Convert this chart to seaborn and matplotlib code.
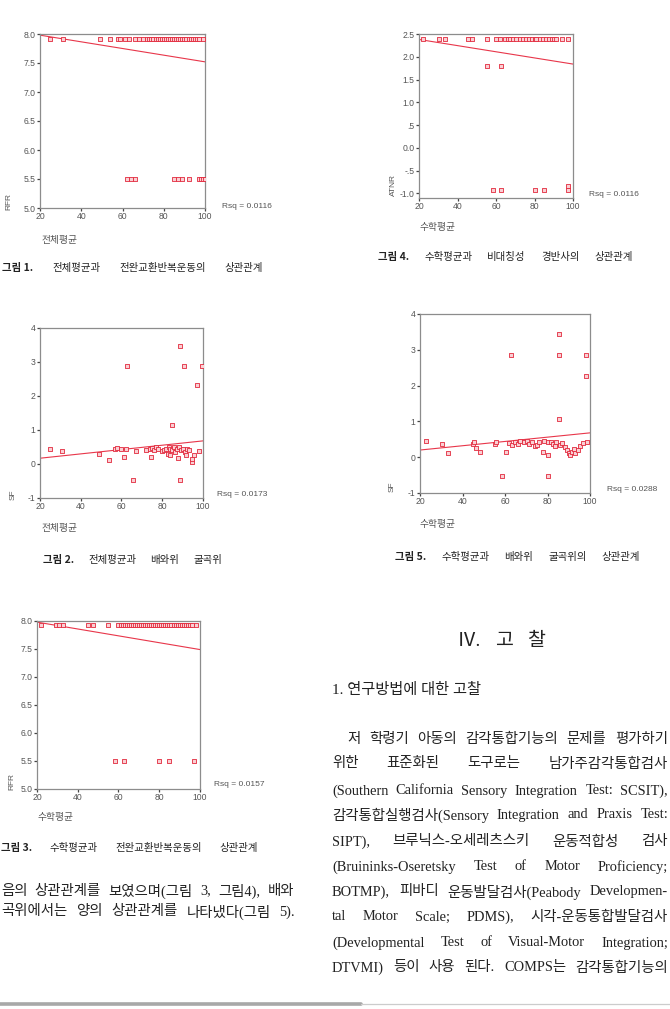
import matplotlib
matplotlib.use("Agg")
import matplotlib.pyplot as plt
from matplotlib.lines import Line2D
import seaborn as sns
import pandas as pd

# ---------------- data ----------------
FIT_X = [20, 100]
X_TICKS = [20, 40, 60, 80, 100]
X_TICKLABELS = ["20", "40", "60", "80", "100"]

# Fig 1: 전체평균 vs RFR
fig1_x = [25, 31, 49, 54, 58, 59, 61, 63, 66, 68, 70, 72, 73, 74, 75, 76, 77, 78, 79, 80,
          81, 82, 83, 84, 85, 86, 87, 88, 89, 90, 91, 92, 93, 94, 95, 96, 97, 99,
          62, 64, 66, 85, 87, 89, 92, 97, 98, 99, 100]
fig1_y = [7.92, 7.92, 7.92, 7.92, 7.92, 7.92, 7.92, 7.92, 7.92, 7.92, 7.92, 7.92, 7.92,
          7.92, 7.92, 7.92, 7.92, 7.92, 7.92, 7.92, 7.92, 7.92, 7.92, 7.92, 7.92, 7.92,
          7.92, 7.92, 7.92, 7.92, 7.92, 7.92, 7.92, 7.92, 7.92, 7.92, 7.92, 7.92,
          5.5, 5.5, 5.5, 5.5, 5.5, 5.5, 5.5, 5.5, 5.5, 5.5, 5.5]
fig1_fit = [7.98, 7.52]
fig1_rsq = "Rsq = 0.0116"

# Fig 4: 수학평균 vs ATNR
fig4_x = [22, 30.4, 33.3, 45.5, 47.7, 55.3, 60.2, 61.9, 64.5, 66, 67.5, 69, 70.6, 72.3,
          74, 75.5, 77, 78.5, 80, 81, 82.7, 84.5, 86, 87.5, 89, 90, 91.3, 94.5, 97.4,
          55.3, 62.8,
          58.4, 62.8, 80.1, 84.8, 97.4, 97.4]
fig4_y = [2.4, 2.4, 2.4, 2.4, 2.4, 2.4, 2.4, 2.4, 2.4, 2.4, 2.4, 2.4, 2.4, 2.4,
          2.4, 2.4, 2.4, 2.4, 2.4, 2.4, 2.4, 2.4, 2.4, 2.4, 2.4, 2.4, 2.4, 2.4, 2.4,
          1.8, 1.8,
          -0.92, -0.92, -0.92, -0.92, -0.92, -0.84]
fig4_fit = [2.38, 1.84]
fig4_rsq = "Rsq = 0.0116"

# Fig 2: 전체평균 vs SF
fig2_x = [25, 31, 49, 54, 57, 58, 60, 61, 62, 62.6, 65.4, 67, 72, 74, 74.5, 75, 76, 77,
          78, 80, 81, 82, 83, 83.5, 84, 84, 84.8, 85, 86, 86.5, 87, 87.5, 88, 88.5,
          88.5, 89, 90, 90.8, 91, 91.5, 92, 93, 94.6, 94.8, 95.5, 97, 98.2, 99.5]
fig2_y = [0.45, 0.37, 0.28, 0.13, 0.45, 0.47, 0.45, 0.2, 0.45, 2.88, -0.46, 0.38, 0.42,
          0.45, 0.22, 0.48, 0.42, 0.5, 0.45, 0.38, 0.42, 0.45, 0.3, 0.5, 0.45, 0.25,
          1.14, 0.4, 0.5, 0.35, 0.45, 0.18, 0.5, 3.47, -0.46, 0.4, 0.45, 2.88, 0.35,
          0.25, 0.45, 0.4, 0.06, 0.15, 0.25, 2.31, 0.38, 2.88]
fig2_fit = [0.17, 0.68]
fig2_rsq = "Rsq = 0.0173"

# Fig 5: 수학평균 vs SF
fig5_x = [22.8, 30.2, 33.3, 45, 45.5, 46.5, 48, 55.3, 55.8, 58.4, 60.3, 63, 62, 63.5,
          64.5, 66, 67, 69, 70.5, 71.5, 72.5, 74, 75, 76, 78, 78.5, 80, 80.4, 80.4,
          81.5, 82.5, 83.5, 84, 85.4, 85.4, 85.4, 86, 87, 88, 89, 90, 90.6, 91.5,
          92.5, 93, 94.5, 95.3, 96.9, 98, 98, 98.4]
fig5_y = [0.45, 0.38, 0.12, 0.38, 0.42, 0.25, 0.15, 0.38, 0.42, -0.52, 0.15, 2.86, 0.4,
          0.35, 0.42, 0.38, 0.45, 0.42, 0.45, 0.38, 0.42, 0.3, 0.35, 0.42, 0.15, 0.45,
          0.42, 0.05, -0.52, 0.42, 0.38, 0.32, 0.42, 3.45, 2.86, 1.07, 0.35, 0.4, 0.28,
          0.2, 0.12, 0.05, 0.15, 0.22, 0.12, 0.2, 0.3, 0.4, 2.86, 2.26, 0.42]
fig5_fit = [0.2, 0.68]
fig5_rsq = "Rsq = 0.0288"

# Fig 3: 수학평균 vs RFR
fig3_x = [22, 29.5, 31, 33, 45, 47.5, 55, 60, 61, 62, 63, 64, 65, 66, 67, 68, 69, 70,
          71, 72, 73, 74, 75, 76, 77, 78, 79, 80, 81, 82, 83, 84, 85, 86, 87, 88, 89,
          90, 91, 92, 93, 94, 95, 96, 98,
          58.2, 62.6, 80, 85, 97.2]
fig3_y = [7.92, 7.92, 7.92, 7.92, 7.92, 7.92, 7.92, 7.92, 7.92, 7.92, 7.92, 7.92, 7.92,
          7.92, 7.92, 7.92, 7.92, 7.92, 7.92, 7.92, 7.92, 7.92, 7.92, 7.92, 7.92, 7.92,
          7.92, 7.92, 7.92, 7.92, 7.92, 7.92, 7.92, 7.92, 7.92, 7.92, 7.92, 7.92, 7.92,
          7.92, 7.92, 7.92, 7.92, 7.92, 7.92,
          5.5, 5.5, 5.5, 5.5, 5.5]
fig3_fit = [7.98, 7.49]
fig3_rsq = "Rsq = 0.0157"

RFR_TICKS = [5.0, 5.5, 6.0, 6.5, 7.0, 7.5, 8.0]
RFR_LABELS = ["5.0", "5.5", "6.0", "6.5", "7.0", "7.5", "8.0"]
ATNR_TICKS = [-1.0, -0.5, 0.0, 0.5, 1.0, 1.5, 2.0, 2.5]
ATNR_LABELS = ["-1.0", "-.5", "0.0", ".5", "1.0", "1.5", "2.0", "2.5"]
SF_TICKS = [-1, 0, 1, 2, 3, 4]
SF_LABELS = ["-1", "0", "1", "2", "3", "4"]

# ---------------- style ----------------
sns.set_theme(style="white")
plt.rcParams["font.family"] = ["Noto Sans CJK KR", "DejaVu Sans"]
plt.rcParams["axes.unicode_minus"] = False

W, H = 670, 1009
fig = plt.figure(figsize=(W / 100, H / 100), dpi=100)
fig.patch.set_facecolor("white")
renderer = fig.canvas.get_renderer()

PT_FACE = "#f9d0d4"
PT_EDGE = "#e2283c"
LINE_C = "#e8364a"
AX_C = "#8c8c8c"
LBL_C = "#555555"
SANS = ["Liberation Sans", "Noto Sans CJK KR"]
KR = ["Noto Sans CJK KR", "DejaVu Sans"]
SERIF = ["Liberation Serif", "Noto Sans CJK KR"]


def rect(l, t, r, b):
    return [l / W, 1 - b / H, (r - l) / W, (b - t) / H]


def ftext(x, y, s, **kw):
    return fig.text(x / W, 1 - y / H, s, **kw)


def panel(box, xs, ys, fit_y, ylim, yticks, ylabels, ylab, ylab_xy, xlab, xlab_xy, rsq, rsq_xy):
    ax = fig.add_axes(rect(*box))
    df = pd.DataFrame({"x": xs, "y": ys})
    ax.plot(FIT_X, fit_y, color=LINE_C, lw=0.8, zorder=2)
    sns.scatterplot(data=df, x="x", y="y", ax=ax, marker="s", s=7,
                    facecolor=PT_FACE, edgecolor=PT_EDGE, linewidth=0.6,
                    legend=False, zorder=3)
    ax.set_xlim(20, 100)
    ax.set_ylim(*ylim)
    ax.set_xticks(X_TICKS)
    ax.set_xticklabels(X_TICKLABELS)
    ax.set_yticks(yticks)
    ax.set_yticklabels(ylabels)
    ax.set_xlabel("")
    ax.set_ylabel("")
    for s in ax.spines.values():
        s.set_visible(True)
        s.set_color(AX_C)
        s.set_linewidth(0.9)
    ax.tick_params(axis="both", direction="out", length=2, width=0.9, color="#444444",
                   labelsize=6.2, labelcolor=LBL_C, pad=1.2, bottom=True, left=True)
    for lbl in ax.get_xticklabels() + ax.get_yticklabels():
        lbl.set_family(SANS)
    ftext(*ylab_xy, ylab, rotation=90, ha="center", va="center", fontsize=6,
          color=LBL_C, family=SANS)
    ftext(*xlab_xy, xlab, ha="left", va="center", fontsize=7, color=LBL_C, family=KR)
    ftext(*rsq_xy, rsq, ha="left", va="center", fontsize=6, color=LBL_C, family=SANS)
    return ax


panel((40, 34, 205, 208), fig1_x, fig1_y, fig1_fit, (5.0, 8.0), RFR_TICKS, RFR_LABELS,
      "RFR", (9, 201), "전체평균", (41, 240), fig1_rsq, (222, 207))
panel((419, 34, 573, 198), fig4_x, fig4_y, fig4_fit, (-1.1, 2.5), ATNR_TICKS, ATNR_LABELS,
      "ATNR", (393, 185), "수학평균", (420, 227), fig4_rsq, (589, 194))
panel((40, 328, 203, 498), fig2_x, fig2_y, fig2_fit, (-1, 4), SF_TICKS, SF_LABELS,
      "SF", (13, 495), "전체평균", (41, 528), fig2_rsq, (217, 495))
panel((420, 314, 590, 493), fig5_x, fig5_y, fig5_fit, (-1, 4), SF_TICKS, SF_LABELS,
      "SF", (392, 487), "수학평균", (420, 524), fig5_rsq, (607, 489))
panel((37, 621, 200, 789), fig3_x, fig3_y, fig3_fit, (5.0, 8.0), RFR_TICKS, RFR_LABELS,
      "RFR", (12, 781), "수학평균", (38, 817), fig3_rsq, (214, 785))


def words_line(words, x0, x1, y, size, family, weights=None, color="#222222"):
    weights = weights or ["normal"] * len(words)
    widths = []
    for w, wt in zip(words, weights):
        t = fig.text(0, 0, w, fontsize=size, family=family, fontweight=wt)
        widths.append(t.get_window_extent(renderer).width)
        t.remove()
    gap = (x1 - x0 - sum(widths)) / max(len(words) - 1, 1)
    x = x0
    for w, wt, wd in zip(words, weights, widths):
        ftext(x, y, w, ha="left", va="center", fontsize=size, family=family,
              fontweight=wt, color=color)
        x += wd + gap


# captions
CAP = 7.5
words_line(["그림 1.", "전체평균과", "전완교환반복운동의", "상관관계"], 2, 263, 268, CAP, KR,
           ["bold", "normal", "normal", "normal"])
words_line(["그림 4.", "수학평균과", "비대칭성", "경반사의", "상관관계"], 378, 633, 257, CAP, KR,
           ["bold", "normal", "normal", "normal", "normal"])
words_line(["그림 2.", "전체평균과", "배와위", "굴곡위"], 43, 222, 560, CAP, KR,
           ["bold", "normal", "normal", "normal"])
words_line(["그림 5.", "수학평균과", "배와위", "굴곡위의", "상관관계"], 395, 640, 557, CAP, KR,
           ["bold", "normal", "normal", "normal", "normal"])
words_line(["그림 3.", "수학평균과", "전완교환반복운동의", "상관관계"], 1, 258, 848, CAP, KR,
           ["bold", "normal", "normal", "normal"])

# left column text (continuation of a paragraph, starts at page edge)
BODY = 10.4
words_line("음의 상관관계를 보였으며(그림 3, 그림4), 배와".split(" "), 1, 294, 891, BODY, SERIF)
words_line("곡위에서는 양의 상관관계를 나타냈다(그림 5).".split(" "), 1, 295, 912, BODY, SERIF)

# right column
words_line(["Ⅳ.", "고", "찰"], 457, 545, 641, 14, SERIF)
ftext(332, 690, "1. 연구방법에 대한 고찰", ha="left", va="center", fontsize=11, family=SERIF,
      color="#222222")

body_lines = [
    ("저 학령기 아동의 감각통합기능의 문제를 평가하기", 347, 739),
    ("위한 표준화된 도구로는 남가주감각통합검사", 332, 764),
    ("(Southern California Sensory Integration Test: SCSIT),", 332, 791),
    ("감각통합실행검사(Sensory Integration and Praxis Test:", 332, 815),
    ("SIPT), 브루닉스-오세레츠스키 운동적합성 검사", 332, 842),
    ("(Bruininks-Oseretsky Test of Motor Proficiency;", 332, 867),
    ("BOTMP), 피바디 운동발달검사(Peabody Developmen-", 332, 892),
    ("tal Motor Scale; PDMS), 시각-운동통합발달검사", 332, 917),
    ("(Developmental Test of Visual-Motor Integration;", 332, 943),
    ("DTVMI) 등이 사용 된다. COMPS는 감각통합기능의", 332, 968),
]
for txt, x0, y in body_lines:
    words_line(txt.split(" "), x0, 668, y, BODY, SERIF)

# bottom rule
fig.add_artist(Line2D([0, 361 / W], [1 - 1004 / H, 1 - 1004 / H], color="#a8a8a8",
                      lw=2.6, transform=fig.transFigure))
fig.add_artist(Line2D([361 / W, 1], [1 - 1004 / H, 1 - 1004 / H], color="#cccccc",
                      lw=0.9, transform=fig.transFigure))

fig.savefig("out.png", dpi=100, facecolor="white")
